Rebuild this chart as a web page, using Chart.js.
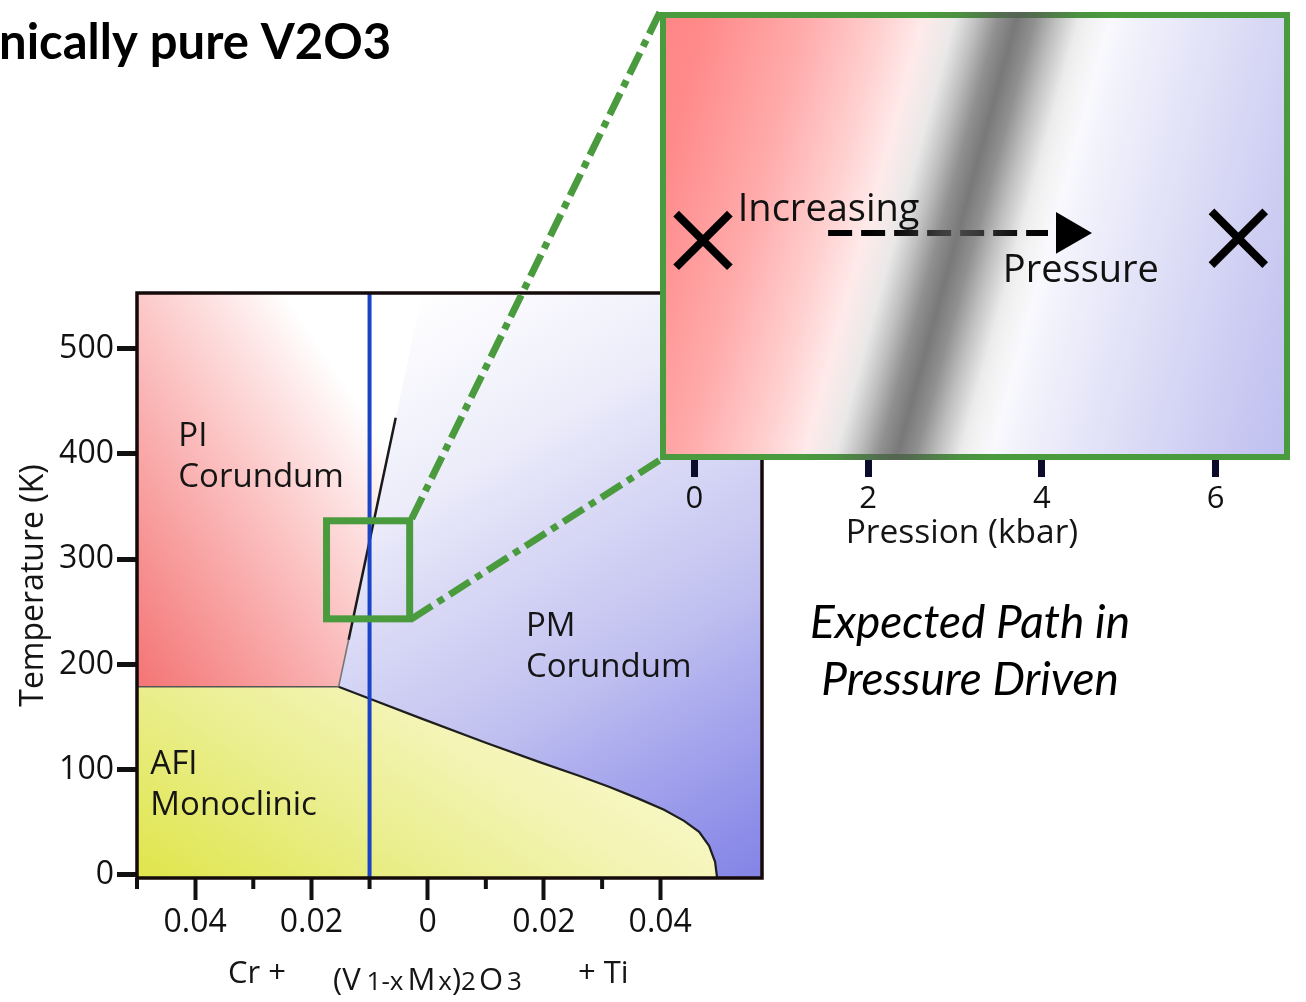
<!DOCTYPE html>
<html><head><meta charset="utf-8">
<script src="https://cdn.jsdelivr.net/npm/chart.js@4.4.1/dist/chart.umd.min.js"></script>
<style>
html,body{margin:0;padding:0;background:#fff;width:1306px;height:1002px;overflow:hidden}
canvas{position:absolute;left:0;top:0}
</style></head><body>
<canvas id="main" width="1306" height="1002"></canvas>
<canvas id="inset" width="1306" height="1002"></canvas>
<script>
// ---------- data ----------
const compositionRange = [-0.05, 0.0575];
const temperatureRange = [-3, 553];
const compositionMajorTicks = [-0.04, -0.02, 0, 0.02, 0.04];
const compositionMinorTicks = [-0.05, -0.03, -0.01, 0.01, 0.03];
const temperatureTicks = [0, 100, 200, 300, 400, 500];
// AFI (monoclinic) boundary
const afiBoundaryX = [-0.05, -0.01533, -0.01085, -0.00138, 0.00999, 0.01912, 0.02601, 0.03117, 0.03634, 0.04065, 0.04409, 0.04668, 0.04840, 0.04943, 0.04978];
const afiBoundaryT = [178.7, 178.7, 169.2, 149.2, 125.5, 107.4, 94.1, 83.7, 72.2, 61.8, 51.3, 40.9, 27.6, 12.4, -3];
// PI / PM first-order line
const piPmLineX = [-0.01533, -0.0136, -0.0055];
const piPmLineT = [178.7, 223.4, 434.4];
const piPmTopX = -0.00097;
// chemically pure V2O3 path
const pathComposition = -0.01;
// zoom box
const zoomBoxX = [-0.0174, -0.0031];
const zoomBoxT = [243.3, 336.5];
// region labels
const regionLabels = [
  {lines: ['PI', 'Corundum'], x: -0.0429, t: 407.8},
  {lines: ['PM', 'Corundum'], x: 0.0169, t: 227.2},
  {lines: ['AFI', 'Monoclinic'], x: -0.0477, t: 96}
];
// inset (pressure)
const pressureRange = [-0.36, 6.82];
const pressureTicks = [0, 2, 4, 6];
const pathPressures = [0.1, 6.26];
const pathLevels = [0.49, 0.495];
const arrowPressures = [1.54, 4.07];
const arrowHeadPressure = 4.30;
const arrowLevel = 0.507;
const bandPressures = [3.72, 2.33]; // at inset top, at inset bottom
const insetLabels = [
  {text: 'Increasing', p: 0.50, level: 0.534},
  {text: 'Pressure', p: 3.55, level: 0.396}
];

// ---------- helpers ----------
Chart.defaults.font.family = "'Open Sans', 'Noto Sans', sans-serif";
Chart.defaults.color = '#111';
const GREEN = '#4a9a3e';

function pts(xs, ys) { return xs.map((x, i) => ({x, y: ys[i]})); }
function linGrad(chart, x0, y0, x1, y1, stops) {
  const xs = chart.scales.x, ys = chart.scales.y;
  if (!xs || !ys || !chart.chartArea) return 'rgba(0,0,0,0)';
  const g = chart.ctx.createLinearGradient(xs.getPixelForValue(x0), ys.getPixelForValue(y0), xs.getPixelForValue(x1), ys.getPixelForValue(y1));
  stops.forEach(([o, c]) => g.addColorStop(o, c));
  return g;
}

const [XMIN, XMAX] = compositionRange;
const [TMIN, TMAX] = temperatureRange;
const afi = pts(afiBoundaryX, afiBoundaryT);
const piPolygon = [{x: XMIN, y: afiBoundaryT[0]}, {x: piPmLineX[0], y: piPmLineT[0]}, {x: piPmTopX, y: TMAX}, {x: XMIN, y: TMAX}];
const pmPolygon = [{x: piPmTopX, y: TMAX}].concat(afi.slice(1)).concat([{x: XMAX, y: TMIN}, {x: XMAX, y: TMAX}]);
const afiPolygon = [{x: XMIN, y: TMIN}].concat(afi);

const fillBase = {type: 'scatter', showLine: true, pointRadius: 0, borderWidth: 1, borderColor: 'rgba(0,0,0,0)', fill: 'shape', order: 10};

const mainPlugin = {
  id: 'mainDecor',
  afterDatasetsDraw(chart) {
    const {ctx, chartArea: a, scales: {x, y}} = chart;
    ctx.save();
    ctx.strokeStyle = '#150a0a'; ctx.lineWidth = 3.5;
    ctx.strokeRect(a.left, a.top, a.right - a.left, a.bottom - a.top);
    ctx.lineWidth = 4; ctx.strokeStyle = '#111';
    compositionMinorTicks.forEach(v => {
      const px = x.getPixelForValue(v);
      ctx.beginPath(); ctx.moveTo(px, a.bottom); ctx.lineTo(px, a.bottom + 11); ctx.stroke();
    });
    ctx.fillStyle = '#151515'; ctx.font = "33px 'Open Sans'"; ctx.textAlign = 'left'; ctx.textBaseline = 'alphabetic';
    regionLabels.forEach(l => {
      const px = x.getPixelForValue(l.x), py = y.getPixelForValue(l.t);
      l.lines.forEach((s, i) => ctx.fillText(s, px, py + i * 41));
    });
    ctx.strokeStyle = GREEN; ctx.lineWidth = 7;
    const bx0 = x.getPixelForValue(zoomBoxX[0]), bx1 = x.getPixelForValue(zoomBoxX[1]);
    const by0 = y.getPixelForValue(zoomBoxT[1]), by1 = y.getPixelForValue(zoomBoxT[0]);
    ctx.strokeRect(bx0, by0, bx1 - bx0, by1 - by0);
    ctx.restore();
  },
  afterDraw(chart) {
    const {ctx, chartArea: a} = chart;
    ctx.save();
    ctx.fillStyle = '#000';
    ctx.textAlign = 'left'; ctx.textBaseline = 'alphabetic';
    ctx.font = "bold 49px Lato";
    ctx.fillText('nically pure V2O3', -1, 59);
    ctx.font = "italic 46px Lato";
    ctx.textAlign = 'center';
    ctx.fillText('Expected Path in', 970, 638);
    ctx.fillText('Pressure Driven', 970, 695);
    ctx.textAlign = 'left'; ctx.fillStyle = '#151515';
    const big = "31px 'Open Sans'", small = "26px 'Open Sans'";
    function run(x0, base, pieces) {
      let cx = x0;
      pieces.forEach(([t, f, gap]) => { cx += gap || 0; ctx.font = f; ctx.fillText(t, cx, base); cx += ctx.measureText(t).width; });
    }
    const cx0 = a.left;
    run(cx0 + 91, a.bottom + 105, [['Cr +', big]]);
    run(cx0 + 196, a.bottom + 112, [['(V', big], ['1-x', small, 6], ['M', big, 4], ['x', small, 3], [')', big], ['2', small], ['O', big, 3], ['3', small, 4]]);
    run(cx0 + 441, a.bottom + 105, [['+ Ti', big]]);
    ctx.restore();
  }
};

const mainChart = new Chart(document.getElementById('main'), {
  type: 'scatter',
  data: {
    datasets: [
      {label: 'V2O3 path', data: [{x: pathComposition, y: TMIN}, {x: pathComposition, y: TMAX}], showLine: true, pointRadius: 0, borderColor: '#1a44c8', borderWidth: 4, order: 0},
      {label: 'PI-PM line', data: pts(piPmLineX, piPmLineT), showLine: true, pointRadius: 0, borderColor: '#1a1a1a', borderWidth: 2.5, order: 1,
        segment: {borderColor: c => c.p0DataIndex === 0 ? '#777' : '#1a1a1a', borderWidth: c => c.p0DataIndex === 0 ? 1.6 : 2.5}},
      {label: 'AFI boundary', data: afi, showLine: true, pointRadius: 0, borderColor: '#1e1e1e', borderWidth: 2.2, order: 1,
        segment: {borderColor: c => c.p0DataIndex === 0 ? '#555' : '#1e1e1e', borderWidth: c => c.p0DataIndex === 0 ? 1.5 : 2.2}},
      Object.assign({}, fillBase, {label: 'PI corundum', data: piPolygon,
        backgroundColor: c => linGrad(c.chart, XMIN, 180, 0.0014, 371, [[0, '#f47474'], [0.45, '#fab2b2'], [0.6, '#fcc8c8'], [0.8, '#fee6e6'], [0.95, '#ffffff'], [1, '#ffffff']])}),
      Object.assign({}, fillBase, {label: 'PM corundum', data: pmPolygon,
        backgroundColor: c => linGrad(c.chart, -0.0015, TMAX, XMAX, TMIN, [[0, '#ffffff'], [0.26, '#ececfa'], [0.33, '#e2e2f8'], [0.62, '#c0c0f0'], [0.73, '#acacee'], [0.95, '#8a8ae8'], [1, '#8484e6']])}),
      Object.assign({}, fillBase, {label: 'AFI monoclinic', data: afiPolygon,
        backgroundColor: c => linGrad(c.chart, XMIN, TMIN, -0.0158, 284, [[0, '#dfe54a'], [0.45, '#eaee8c'], [0.8, '#f4f4b6'], [1, '#f7f7c4']])})
    ]
  },
  options: {
    responsive: false, animation: false, events: [],
    layout: {autoPadding: false, padding: {left: 0, top: 293, right: 544, bottom: 0}},
    plugins: {legend: {display: false}, tooltip: {enabled: false}},
    scales: {
      x: {
        type: 'linear', min: XMIN, max: XMAX,
        afterBuildTicks: s => { s.ticks = compositionMajorTicks.map(v => ({value: v})); },
        afterFit: s => { s.height = 124; },
        ticks: {callback: v => v === 0 ? '0' : Math.abs(v).toFixed(2), font: {size: 32}, padding: 4, maxRotation: 0, autoSkip: false},
        grid: {drawOnChartArea: false, tickLength: 22, tickWidth: 4, tickColor: '#111'},
        border: {display: false}
      },
      y: {
        type: 'linear', min: TMIN, max: TMAX,
        afterBuildTicks: s => { s.ticks = temperatureTicks.map(v => ({value: v})); },
        afterFit: s => { s.width = 137; },
        ticks: {font: {size: 32}, padding: 3},
        grid: {drawOnChartArea: false, tickLength: 20, tickWidth: 5, tickColor: '#111'},
        border: {display: false},
        title: {display: true, text: 'Temperature (K)', font: {size: 32}, padding: {top: 15, bottom: 0}, color: '#151515'}
      }
    }
  },
  plugins: [mainPlugin]
});

// ---------- inset ----------
function bandGeometry(chart) {
  const xs = chart.scales.x, a = chart.chartArea;
  const xt = xs.getPixelForValue(bandPressures[0]), xb = xs.getPixelForValue(bandPressures[1]);
  const vx = xb - xt, vy = a.bottom - a.top, len = Math.hypot(vx, vy);
  return {cx: (xt + xb) / 2, cy: (a.top + a.bottom) / 2, nx: vy / len, ny: -vx / len};
}
function bandGradient(ctx, g, stops) {
  const dmin = -400, dmax = 400;
  const grad = ctx.createLinearGradient(g.cx + g.nx * dmin, g.cy + g.ny * dmin, g.cx + g.nx * dmax, g.cy + g.ny * dmax);
  stops.forEach(([d, c]) => grad.addColorStop((d - dmin) / (dmax - dmin), c));
  return grad;
}
const baseStops = [[-400, '#ff8080'], [-300, '#ff8a8a'], [-200, '#ffacac'], [-130, '#ffd0d0'], [-80, '#fff0f0'], [-55, '#ffffff'], [70, '#ffffff'], [110, '#f3f3fc'], [200, '#e0e0f7'], [320, '#c8c8f2'], [400, '#bcbcf0']];
const bandStops = [[-400, 0], [-90, 0], [-60, 0.12], [-38, 0.38], [-18, 0.66], [0, 0.8], [18, 0.66], [38, 0.38], [60, 0.12], [90, 0], [400, 0]].map(([d, a]) => [d, 'rgba(87,87,87,' + a + ')']);

const insetPlugin = {
  id: 'insetDecor',
  beforeDatasetsDraw(chart) {
    const {ctx, chartArea: a} = chart;
    ctx.save();
    ctx.fillStyle = bandGradient(ctx, bandGeometry(chart), baseStops);
    ctx.fillRect(a.left, a.top, a.right - a.left, a.bottom - a.top);
    ctx.restore();
  },
  afterDatasetsDraw(chart) {
    const {ctx, chartArea: a, scales: {x, y}} = chart;
    ctx.save();
    ctx.strokeStyle = GREEN; ctx.lineWidth = 6;
    ctx.strokeRect(a.left, a.top, a.right - a.left, a.bottom - a.top);
    ctx.beginPath(); ctx.rect(a.left - 3, a.top - 3, a.right - a.left + 6, a.bottom - a.top + 6); ctx.clip();
    ctx.fillStyle = bandGradient(ctx, bandGeometry(chart), bandStops);
    ctx.fillRect(a.left - 3, a.top - 3, a.right - a.left + 6, a.bottom - a.top + 6);
    ctx.restore();
    ctx.save();
    ctx.fillStyle = '#111'; ctx.textAlign = 'left'; ctx.textBaseline = 'alphabetic';
    ctx.font = "38px 'Open Sans'";
    insetLabels.forEach(l => ctx.fillText(l.text, x.getPixelForValue(l.p), y.getPixelForValue(l.level)));
    ctx.restore();
  },
  afterDraw(chart) {
    const {ctx, chartArea: a} = chart;
    const mx = mainChart.scales.x, my = mainChart.scales.y;
    const bx = mx.getPixelForValue(zoomBoxX[1]);
    const byTop = my.getPixelForValue(zoomBoxT[1]), byBot = my.getPixelForValue(zoomBoxT[0]);
    ctx.save();
    ctx.strokeStyle = GREEN; ctx.lineWidth = 7; ctx.setLineDash([24, 7, 7, 7]);
    ctx.beginPath(); ctx.moveTo(bx + 2, byTop - 2); ctx.lineTo(a.left - 3, a.top - 3); ctx.stroke();
    ctx.beginPath(); ctx.moveTo(bx + 2, byBot); ctx.lineTo(a.left - 3, a.bottom + 3); ctx.stroke();
    ctx.restore();
  }
};

new Chart(document.getElementById('inset'), {
  type: 'scatter',
  data: {
    datasets: [
      {label: 'states', data: pts(pathPressures, pathLevels), pointStyle: 'crossRot', pointRadius: 38, borderWidth: 8, borderColor: '#000', backgroundColor: '#000'},
      {label: 'arrow head', data: [{x: arrowHeadPressure, y: arrowLevel}], pointStyle: 'triangle', rotation: 90, pointRadius: 24, borderWidth: 0, backgroundColor: '#000'},
      {label: 'arrow', data: arrowPressures.map(p => ({x: p, y: arrowLevel})), showLine: true, pointRadius: 0, borderColor: '#000', borderWidth: 6, borderDash: [24, 9]}
    ]
  },
  options: {
    responsive: false, animation: false, events: [],
    layout: {autoPadding: false, padding: {left: 663, top: 15, right: 19, bottom: 448}},
    plugins: {legend: {display: false}, tooltip: {enabled: false}},
    scales: {
      x: {
        type: 'linear', min: pressureRange[0], max: pressureRange[1],
        afterBuildTicks: s => { s.ticks = pressureTicks.map(v => ({value: v})); },
        afterFit: s => { s.height = 97; },
        ticks: {font: {size: 31}, padding: 4, maxRotation: 0, autoSkip: false},
        grid: {drawOnChartArea: false, tickLength: 20, tickWidth: 7, tickColor: '#0b0b2c'},
        border: {display: false},
        title: {display: true, text: 'Pression (kbar)   ', font: {size: 33.5}, padding: {top: 0, bottom: 0}, color: '#151515'}
      },
      y: {type: 'linear', min: 0, max: 1, display: false}
    }
  },
  plugins: [insetPlugin]
});
</script>
</body></html>
